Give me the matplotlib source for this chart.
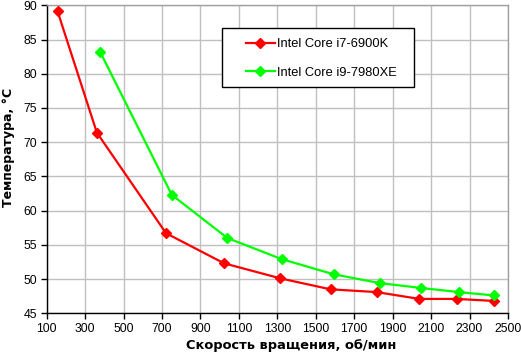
import matplotlib
matplotlib.use("Agg")
import matplotlib.pyplot as plt
from matplotlib.patches import Rectangle

# Data
rpm_i7 = [157, 361, 721, 1023, 1316, 1577, 1816, 2039, 2233, 2429]
temp_i7 = [89.1, 71.4, 56.7, 52.3, 50.1, 48.5, 48.1, 47.1, 47.1, 46.8]

rpm_i9 = [378, 751, 1040, 1324, 1593, 1835, 2048, 2243, 2429]
temp_i9 = [83.2, 62.3, 56.0, 52.9, 50.7, 49.4, 48.7, 48.1, 47.6]

x_ticks = list(range(100, 2501, 200))
y_ticks = list(range(45, 91, 5))

plt.rcParams["font.family"] = ["Liberation Sans", "DejaVu Sans"]

fig = plt.figure(figsize=(5.21, 3.55), dpi=100)
ax = fig.add_axes([0.0896, 0.1175, 0.8854, 0.8675])

ax.plot(rpm_i7, temp_i7, color="#ff0000", lw=1.6, marker="D", ms=5.5,
        label="Intel Core i7-6900K", zorder=3)
ax.plot(rpm_i9, temp_i9, color="#00ff00", lw=1.6, marker="D", ms=5.5,
        label="Intel Core i9-7980XE", zorder=3)

ax.set_xlim(100, 2500)
ax.set_ylim(45, 90)
ax.set_xticks(x_ticks)
ax.set_yticks(y_ticks)
ax.tick_params(labelsize=8.8, direction="out", length=4, width=1, color="black", pad=3)
ax.grid(True, color="#c0c0c0", lw=1)
ax.set_axisbelow(True)

for side in ["top", "right"]:
    ax.spines[side].set_color("#a0a0a0")
for side in ["left", "bottom"]:
    ax.spines[side].set_color("black")
for s in ax.spines.values():
    s.set_linewidth(1)

ax.set_xlabel("Скорость вращения, об/мин", fontsize=9.4, fontweight="bold",
              family="DejaVu Sans")
ax.set_ylabel("Температура, °C", fontsize=9, fontweight="bold",
              family="DejaVu Sans")
ax.xaxis.set_label_coords(0.53, -0.085)
ax.yaxis.set_label_coords(-0.068, 0.537)

# legend box like the Excel one
ax.add_patch(Rectangle((0.3806, 0.7338), 0.415, 0.1915, transform=ax.transAxes,
                       facecolor="white", edgecolor="black", lw=1, zorder=4))
leg = ax.legend(loc="upper left", bbox_to_anchor=(0.432, 0.8935), fontsize=9.3,
                frameon=False, borderpad=0, labelspacing=1.3, handlelength=2.25,
                handletextpad=0.15, borderaxespad=0)
leg.set_zorder(5)

fig.savefig("out.png", dpi=100)
